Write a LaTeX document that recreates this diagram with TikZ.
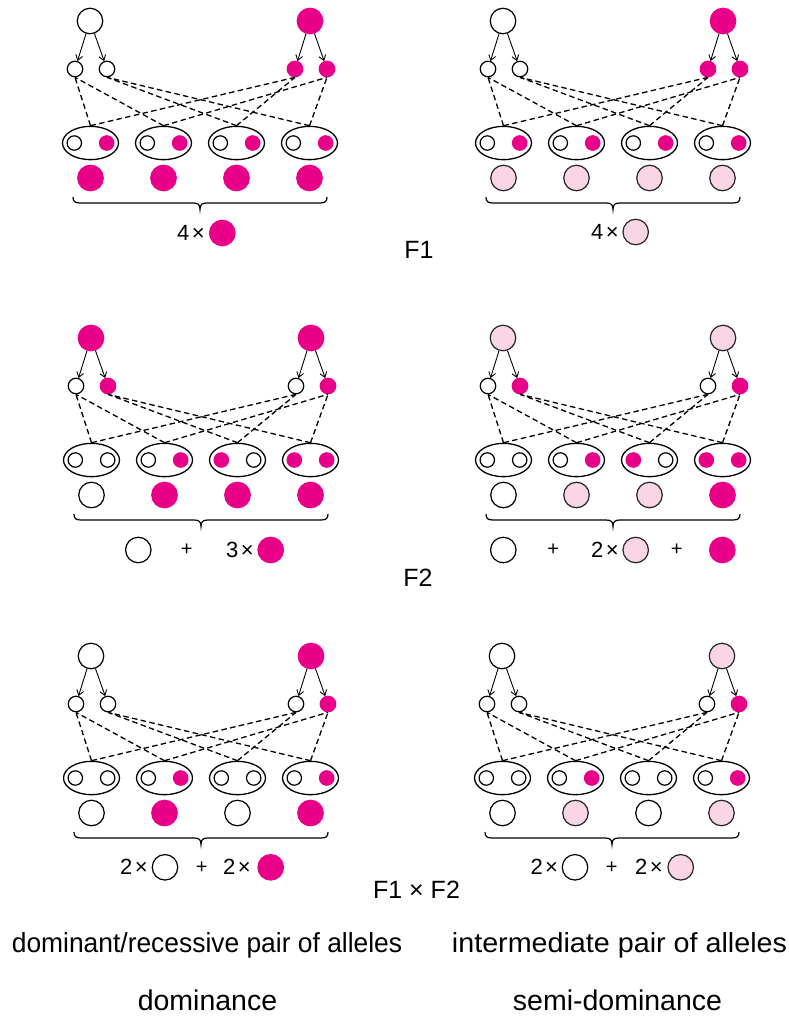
\documentclass[tikz,border=0pt]{standalone}
\usepackage{fontspec}
\setmainfont{Liberation Sans}
\usetikzlibrary{shapes.geometric,arrows.meta}

\definecolor{allelemag}{RGB}{233,0,137}
\definecolor{allelepale}{RGB}{249,213,229}

\tikzset{
  big/.style={circle,inner sep=0pt,minimum size=25.5pt},
  gam/.style={circle,inner sep=0pt,minimum size=15.5pt},
  inn/.style={circle,inner sep=0pt,minimum size=14.4pt},
  wc/.style={draw=black,line width=1.2pt,fill=white},
  mc/.style={draw=allelemag,line width=1.2pt,fill=allelemag},
  pc/.style={draw=black!85,line width=1.2pt,fill=allelepale},
  zygote/.style={ellipse,draw,line width=1.3pt,inner sep=0pt,minimum width=56pt,minimum height=33.3pt},
  meiosis/.style={-{Straight Barb[length=5pt,width=7pt]},line width=0.9pt},
  pairing/.style={dash pattern=on 5.5pt off 3.4pt,line width=1.3pt},
  bracket/.style={line width=1.2pt},
  count/.style={inner sep=0pt,font=\fontsize{22}{24}\selectfont},
  plus/.style={inner sep=0pt,font=\fontsize{20}{24}\selectfont},
  gen/.style={inner sep=0pt,font=\fontsize{25}{28}\selectfont},
  caption/.style={inner sep=0pt,font=\fontsize{27.5}{30}\selectfont},
  kind/.style={inner sep=0pt,font=\fontsize{28.5}{32}\selectfont},
}

% one cross: parents, gametes, zygote pairs, pairing lines and brace
% #1 centre x, #2 parent row y, #3 name prefix, #4/#5 parents, #6-#9 gametes
\newcommand\crosspanel[9]{%
  \node[big,#4] (#3pl) at (#1-110,#2) {};
  \node[big,#5] (#3pr) at (#1+110,#2) {};
  \node[gam,#6] (#3ga) at (#1-125,#2+48) {};
  \node[gam,#7] (#3gb) at (#1-93,#2+48) {};
  \node[gam,#8] (#3gc) at (#1+95,#2+48) {};
  \node[gam,#9] (#3gd) at (#1+127,#2+48) {};
  \draw[meiosis] (#3pl) -- (#3ga);
  \draw[meiosis] (#3pl) -- (#3gb);
  \draw[meiosis] (#3pr) -- (#3gc);
  \draw[meiosis] (#3pr) -- (#3gd);
  \node[zygote] (#3za) at (#1-109.5,#2+122) {};
  \node[zygote] (#3zb) at (#1-36.5,#2+122) {};
  \node[zygote] (#3zc) at (#1+36.5,#2+122) {};
  \node[zygote] (#3zd) at (#1+109.5,#2+122) {};
  \node[inn,#6] (#3za1) at (#1-125.7,#2+122) {};
  \node[inn,#8] (#3za2) at (#1-93.3,#2+122) {};
  \node[inn,#6] (#3zb1) at (#1-52.7,#2+122) {};
  \node[inn,#9] (#3zb2) at (#1-20.3,#2+122) {};
  \node[inn,#7] (#3zc1) at (#1+20.3,#2+122) {};
  \node[inn,#8] (#3zc2) at (#1+52.7,#2+122) {};
  \node[inn,#7] (#3zd1) at (#1+93.3,#2+122) {};
  \node[inn,#9] (#3zd2) at (#1+125.7,#2+122) {};
  \draw[pairing] (#3za.north) -- (#3ga.south);
  \draw[pairing] (#3za.north) -- (#3gc.south);
  \draw[pairing] (#3zb.north) -- (#3ga.south);
  \draw[pairing] (#3zb.north) -- (#3gd.south);
  \draw[pairing] (#3zc.north) -- (#3gb.south);
  \draw[pairing] (#3zc.north) -- (#3gc.south);
  \draw[pairing] (#3zd.north) -- (#3gb.south);
  \draw[pairing] (#3zd.north) -- (#3gd.south);
  \draw[bracket] (#1-127,#2+176) .. controls (#1-127,#2+180.5) and (#1-125,#2+182) .. (#1-120,#2+182)
    -- (#1-7,#2+182) .. controls (#1-2,#2+182) and (#1,#2+183.5) .. (#1,#2+188.5)
    .. controls (#1,#2+183.5) and (#1+2,#2+182) .. (#1+7,#2+182)
    -- (#1+120,#2+182) .. controls (#1+125,#2+182) and (#1+127,#2+180.5) .. (#1+127,#2+176);
}

% phenotypes of the four offspring
\newcommand\offspring[7]{%
  \node[big,#4] (#3ra) at (#1-109.5,#2+157) {};
  \node[big,#5] (#3rb) at (#1-36.5,#2+157) {};
  \node[big,#6] (#3rc) at (#1+36.5,#2+157) {};
  \node[big,#7] (#3rd) at (#1+109.5,#2+157) {};
}

\begin{document}
\begin{tikzpicture}[x=1pt,y=-1pt]
\useasboundingbox (0,0) rectangle (789,1028);

% ---- F1 ----
\crosspanel{200}{21}{tl}{wc}{mc}{wc}{wc}{mc}{mc}
\offspring{200}{21}{tl}{mc}{mc}{mc}{mc}
\node[count,anchor=east] (tlk) at (205,233) {4\kern2.5pt×};
\node[big,mc] (tls) at (222.3,233) {};

\crosspanel{613}{21}{tr}{wc}{mc}{wc}{wc}{mc}{mc}
\offspring{613}{21}{tr}{pc}{pc}{pc}{pc}
\node[count,anchor=east] (trk) at (619,232) {4\kern2.5pt×};
\node[big,pc] (trs) at (635.7,232) {};

\node[gen] (f1) at (419,250) {F1};

% ---- F2 ----
\crosspanel{201}{338}{ml}{mc}{mc}{wc}{mc}{wc}{mc}
\offspring{201}{338}{ml}{wc}{mc}{mc}{mc}
\node[big,wc] (mls1) at (138.3,550) {};
\node[plus] (mlp1) at (186.7,550) {+};
\node[count,anchor=east] (mlk) at (254,550) {3\kern2.5pt×};
\node[big,mc] (mls2) at (270.7,550) {};

\crosspanel{613}{338}{mr}{pc}{pc}{wc}{mc}{wc}{mc}
\offspring{613}{338}{mr}{wc}{pc}{pc}{mc}
\node[big,wc] (mrs1) at (503.3,550) {};
\node[plus] (mrp1) at (553.3,550) {+};
\node[count,anchor=east] (mrk) at (619,550) {2\kern2.5pt×};
\node[big,pc] (mrs2) at (635.7,550) {};
\node[plus] (mrp2) at (676.7,550) {+};
\node[big,mc] (mrs3) at (722.3,550) {};

\node[gen] (f2) at (418,578) {F2};

% ---- F1 x F2 ----
\crosspanel{201}{656}{bl}{wc}{mc}{wc}{wc}{wc}{mc}
\offspring{201}{656}{bl}{wc}{mc}{wc}{mc}
\node[count,anchor=east] (blk1) at (148,867.3) {2\kern2.5pt×};
\node[big,wc] (bls1) at (165,867.3) {};
\node[plus] (blp) at (201.7,867.3) {+};
\node[count,anchor=east] (blk2) at (251,867.3) {2\kern2.5pt×};
\node[big,mc] (bls2) at (270.7,867.3) {};

\crosspanel{612}{656}{br}{wc}{pc}{wc}{wc}{wc}{mc}
\offspring{612}{656}{br}{wc}{pc}{wc}{pc}
\node[count,anchor=east] (brk1) at (558.3,867.3) {2\kern2.5pt×};
\node[big,wc] (brs1) at (575,867.3) {};
\node[plus] (brp) at (611.7,867.3) {+};
\node[count,anchor=east] (brk2) at (663,867.3) {2\kern2.5pt×};
\node[big,pc] (brs2) at (680.7,867.3) {};

\node[gen] (f12) at (416.5,890) {F1 × F2};

% ---- captions ----
\node[caption] (capl) at (207,945) {\scalebox{0.96}[1]{dominant/recessive pair of alleles}};
\node[caption] (capr) at (619.5,945) {\scalebox{1.044}[1]{intermediate pair of alleles}};
\node[kind] (kindl) at (207.5,1000) {dominance};
\node[kind] (kindr) at (617.5,1000) {semi-dominance};
\end{tikzpicture}
\end{document}
